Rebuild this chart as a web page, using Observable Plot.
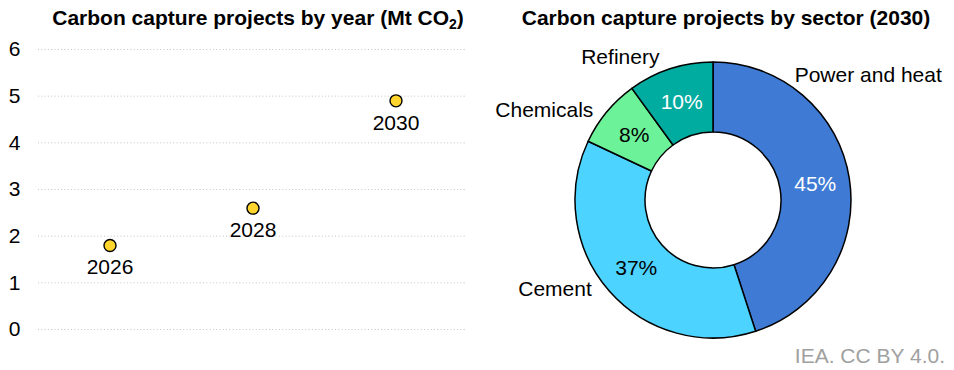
<!DOCTYPE html>
<html>
<head>
<meta charset="utf-8">
<script src="https://cdn.jsdelivr.net/npm/d3@7"></script>
<script src="https://cdn.jsdelivr.net/npm/@observablehq/plot@0.6"></script>
<style>
  body { margin: 0; background: #fff; font-family: "Liberation Sans", Arial, sans-serif; }
  #fig { position: relative; width: 954px; height: 370px; overflow: hidden; }
  .panel { position: absolute; top: 0; }
  .title { position: absolute; top: 6px; font-weight: bold; font-size: 21px; line-height: 24px;
           white-space: nowrap; transform: translateX(-50%); color: #000; }
  .title sub { font-size: 14px; vertical-align: -4px; line-height: 0; }
  .source { position: absolute; right: 9px; top: 344px; font-size: 21px; line-height: 24px; color: #a0a0a0; }
</style>
</head>
<body>
<div id="fig">
  <div class="panel" id="left" style="left:0"></div>
  <div class="panel" id="right" style="left:477px"></div>
  <div class="title" style="left:258px">Carbon capture projects by year (Mt CO<sub>2</sub>)</div>
  <div class="title" style="left:726px">Carbon capture projects by sector (2030)</div>
  <div class="source">IEA. CC BY 4.0.</div>
</div>
<script>
// Captured CO2 by project start year (Mt CO2)
const years = [2026, 2028, 2030];
const capture = [1.8, 2.6, 4.9];
const yTicks = [0, 1, 2, 3, 4, 5, 6];

// Sector shares of 2030 capacity (%), clockwise from 12 o'clock
const sectors = ["Power and heat", "Cement", "Chemicals", "Refinery"];
const shares = [45, 37, 8, 10];
const sectorColors = ["#3f7bd4", "#4cd3ff", "#6cf299", "#00ab9f"];
const pctTextColors = ["#fff", "#000", "#000", "#fff"];

// Outer label placement (angle in degrees clockwise from top, radius as a fraction of the outer radius)
const outerLabelLayout = [
  {angle: 33, radius: 1.08, anchor: "start"},
  {angle: 234, radius: 1.09, anchor: "end"},
  {angle: 307, radius: 1.09, anchor: "end"},
  {angle: 327, radius: 1.24, anchor: "middle"}
];

const font = {fontFamily: "'Liberation Sans', Arial, sans-serif", fontSize: "21px", color: "#000", background: "transparent", overflow: "visible"};

// ---- Left panel: dot chart by year ----
const points = years.map((year, i) => ({year, value: capture[i]}));

const left = Plot.plot({
  width: 477, height: 370,
  marginLeft: 38, marginRight: 10, marginTop: 49, marginBottom: 41,
  style: font,
  x: {domain: [2025, 2031], axis: null},
  y: {domain: [0, 6], axis: null},
  marks: [
    Plot.gridY(yTicks, {stroke: "#c4c4c4", strokeOpacity: 1, strokeWidth: 1, strokeDasharray: "1,2.3"}),
    Plot.axisY(yTicks, {tickSize: 0, tickPadding: 18, fontSize: 21, label: null, fill: "#000"}),
    Plot.dot(points, {x: "year", y: "value", r: 6, fill: "#ffd52e", stroke: "#000", strokeWidth: 1.4}),
    Plot.text(points, {x: "year", y: "value", text: d => String(d.year), dy: 22, fontSize: 21, fill: "#000"})
  ]
});
document.getElementById("left").append(left);

// ---- Right panel: donut by sector ----
const slices = sectors.map((sector, i) => ({sector, share: shares[i], color: sectorColors[i], textColor: pctTextColors[i]}));
const arcs = d3.pie().sort(null).value(d => d.share)(slices);
const innerFrac = 68 / 138;

const rad = a => a * Math.PI / 180;
// Percentage labels sit on each slice's centroid
const pctLabels = arcs.map(a => {
  const mid = (a.startAngle + a.endAngle) / 2;
  const r = (1 + innerFrac) / 2;
  return {x: r * Math.sin(mid), y: r * Math.cos(mid), text: a.data.share + "%", color: a.data.textColor};
});
const outerLabels = slices.map((s, i) => {
  const L = outerLabelLayout[i];
  return {x: L.radius * Math.sin(rad(L.angle)), y: L.radius * Math.cos(rad(L.angle)), text: s.sector, anchor: L.anchor};
});

function donut(index, scales, values, dimensions) {
  const cx = scales.x(0), cy = scales.y(0);
  const R = Math.abs(scales.x(1) - scales.x(0));
  const arc = d3.arc().innerRadius(R * innerFrac).outerRadius(R);
  const g = d3.create("svg:g").attr("transform", `translate(${cx},${cy})`);
  g.selectAll("path").data(arcs).join("path")
    .attr("d", arc)
    .attr("fill", d => d.data.color)
    .attr("stroke", "#000")
    .attr("stroke-width", 1.5)
    .attr("stroke-linejoin", "round");
  return g.node();
}

const right = Plot.plot({
  width: 477, height: 370,
  marginLeft: 98, marginRight: 103, marginTop: 62, marginBottom: 32,
  style: font,
  x: {domain: [-1, 1], axis: null},
  y: {domain: [-1, 1], axis: null},
  marks: [
    donut,
    Plot.text(pctLabels, {x: "x", y: "y", text: "text", fill: "color", fontSize: 21}),
    ...["start", "middle", "end"].map(anchor =>
      Plot.text(outerLabels.filter(d => d.anchor === anchor), {x: "x", y: "y", text: "text", textAnchor: anchor, fill: "#000", fontSize: 21}))
  ]
});
document.getElementById("right").append(right);
</script>
</body>
</html>
